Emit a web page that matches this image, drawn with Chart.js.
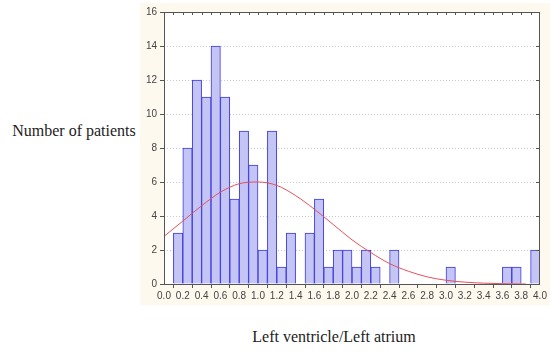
<!DOCTYPE html>
<html>
<head>
<meta charset="utf-8">
<script src="https://cdn.jsdelivr.net/npm/chart.js@4"></script>
<style>
  body { margin: 0; width: 550px; height: 354px; background: #fff; position: relative; overflow: hidden; }
  #panel { position: absolute; left: 140px; top: 3px; width: 410px; height: 302px; background: #fdf9ee; }
  #wrap { position: absolute; left: 140px; top: 0; width: 410px; height: 310px; }
  .title { position: absolute; font-family: "Liberation Serif", serif; font-size: 16px; color: #222; white-space: nowrap; transform: translate(-50%, -50%); }
</style>
</head>
<body>
<div id="panel"></div>
<div id="wrap"><canvas id="histChart"></canvas></div>
<div class="title" id="ytitle" style="left:74px; top:131px;">Number of patients</div>
<div class="title" id="xtitle" style="left:334px; top:337px;">Left ventricle/Left atrium</div>
<script>
// bins of width 0.1, start value of each bin
var binStarts = [0.0,0.1,0.2,0.3,0.4,0.5,0.6,0.7,0.8,0.9,1.0,1.1,1.2,1.3,1.4,1.5,1.6,1.7,1.8,1.9,
                 2.0,2.1,2.2,2.3,2.4,2.5,2.6,2.7,2.8,2.9,3.0,3.1,3.2,3.3,3.4,3.5,3.6,3.7,3.8,3.9];
var counts = [0,3,8,12,11,14,11,5,9,7,2,9,1,3,0,3,5,1,2,2,
              1,2,1,0,2,0,0,0,0,0,1,0,0,0,0,0,1,1,0,2];

// fitted normal curve
var curveX = [0.0,0.2,0.4,0.6,0.8,1.0,1.2,1.4,1.6,1.8,2.0,2.2,2.4,2.6,2.8,3.0,3.2,3.4,3.6,3.85];
var curveY = [2.8,3.7,4.6,5.4,5.9,6.0,5.8,5.2,4.4,3.5,2.6,1.85,1.2,0.75,0.42,0.22,0.11,0.05,0.02,0.0];

var yTicks = [0,2,4,6,8,10,12,14,16];

var barData = [];
for (var i = 0; i < binStarts.length; i++) {
    barData.push({x: binStarts[i] + 0.05, y: counts[i]});
}
var lineData = [];
for (var j = 0; j < curveX.length; j++) {
    lineData.push({x: curveX[j], y: curveY[j]});
}

var frame = {
    id: 'frame',
    beforeDraw: function(chart) {
        var a = chart.chartArea;
        chart.ctx.save();
        chart.ctx.fillStyle = '#ffffff';
        chart.ctx.fillRect(a.left, a.top, a.right - a.left, a.bottom - a.top);
        chart.ctx.restore();
    },
    afterDraw: function(chart) {
        var ctx = chart.ctx;
        var a = chart.chartArea;
        var xs = chart.scales.x, ys = chart.scales.y;
        ctx.save();
        ctx.strokeStyle = '#555';
        ctx.lineWidth = 1;
        ctx.strokeRect(Math.round(a.left) + 0.5, Math.round(a.top) + 0.5,
                       Math.round(a.right - a.left) - 1, Math.round(a.bottom - a.top));
        ctx.beginPath();
        // small ticks on top border
        for (var k = 1; k < 40; k++) {
            var px = Math.round(xs.getPixelForValue(k / 10)) + 0.5;
            ctx.moveTo(px, a.top);
            ctx.lineTo(px, a.top + 3);
        }
        // ticks on right border
        for (var m = 1; m < yTicks.length - 1; m++) {
            var py = Math.round(ys.getPixelForValue(yTicks[m])) + 0.5;
            ctx.moveTo(a.right, py);
            ctx.lineTo(a.right - 4, py);
        }
        ctx.stroke();
        ctx.restore();
    }
};

new Chart(document.getElementById('histChart').getContext('2d'), {
    type: 'bar',
    data: {
        datasets: [{
            type: 'line',
            data: lineData,
            borderColor: '#e5505c',
            borderWidth: 1,
            pointRadius: 0,
            cubicInterpolationMode: 'monotone',
            fill: false,
            order: 0
        }, {
            type: 'bar',
            data: barData,
            backgroundColor: '#c4c4f5',
            borderColor: '#3a3ae0',
            borderWidth: 1,
            barPercentage: 1.0,
            categoryPercentage: 1.0,
            order: 1
        }]
    },
    options: {
        responsive: true,
        maintainAspectRatio: false,
        animation: false,
        layout: { padding: { top: 12, right: 10, bottom: 4, left: 0 } },
        plugins: { legend: { display: false }, tooltip: { enabled: false } },
        scales: {
            x: {
                type: 'linear',
                min: 0, max: 4,
                offset: false,
                afterFit: function(scale) { scale.height = 22; },
                ticks: {
                    stepSize: 0.2,
                    color: '#444',
                    padding: 2,
                    maxRotation: 0,
                    autoSkip: false,
                    font: { family: 'Liberation Sans', size: 10 },
                    callback: function(v) { return v.toFixed(1); }
                },
                grid: { display: true, drawOnChartArea: false, tickLength: 4, color: '#555' },
                border: { display: false }
            },
            y: {
                min: 0, max: 16,
                afterFit: function(scale) { scale.width = 24; },
                ticks: {
                    stepSize: 2,
                    color: '#444',
                    padding: 3,
                    font: { family: 'Liberation Sans', size: 10 }
                },
                grid: {
                    color: function(c) { return (c.tick.value === 0 || c.tick.value === 16) ? 'rgba(0,0,0,0)' : '#c8c8c8'; },
                    tickColor: '#555',
                    tickLength: 4
                },
                border: { display: false, dash: [1, 2] }
            }
        }
    },
    plugins: [frame]
});
</script>
</body>
</html>
